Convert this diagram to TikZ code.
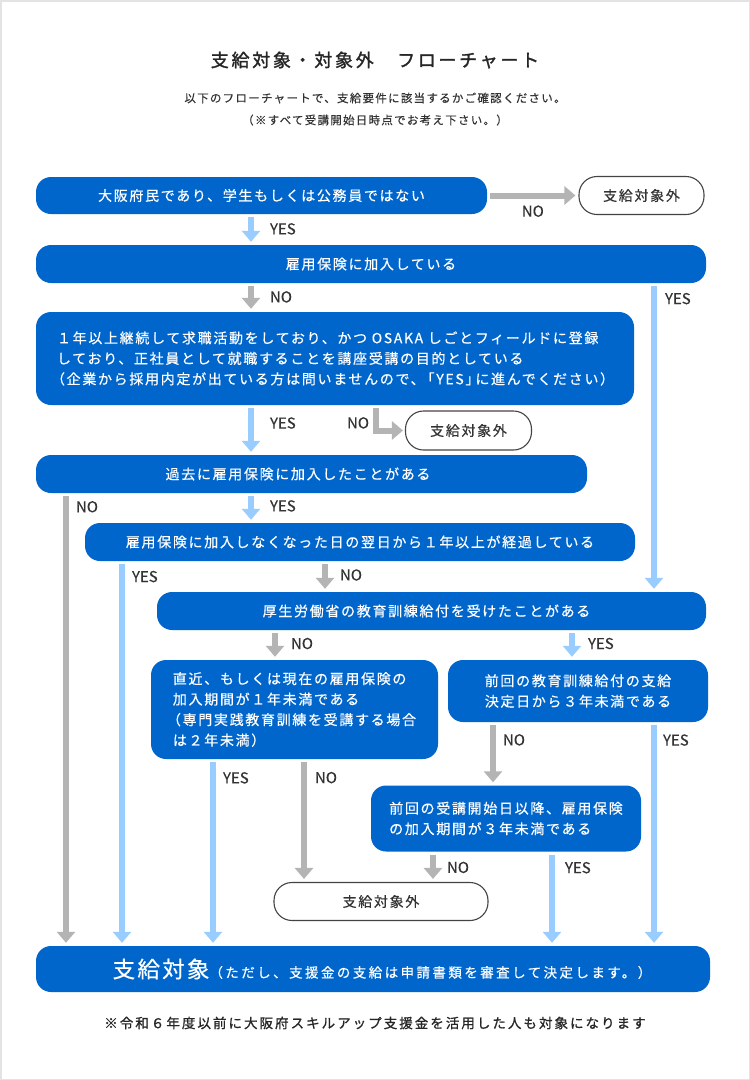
\documentclass[tikz,border=0pt]{standalone}
\usepackage{fontspec}
\setmainfont{Noto Sans CJK JP}
\newfontfamily\jpbox[LetterSpace=12,FakeBold=0.4]{Noto Sans CJK JP}
\newfontfamily\jptitle[LetterSpace=15,FakeBold=1.5]{Noto Sans CJK JP}
\newfontfamily\jpsub[LetterSpace=11,FakeBold=0.3]{Noto Sans CJK JP}
\newfontfamily\jpnote[LetterSpace=15,FakeBold=1]{Noto Sans CJK JP}
\newfontfamily\jpbig[LetterSpace=10,FakeBold=0.5]{Noto Sans CJK JP}
\newfontfamily\jpfinal[LetterSpace=18,FakeBold=0.4]{Noto Sans CJK JP}
\newfontfamily\jplab[FakeBold=0.3]{Noto Sans CJK JP}
\usepackage{tikz}
\usetikzlibrary{arrows.meta}
\usetikzlibrary{calc}
\definecolor{boxblue}{HTML}{0066CC}
\definecolor{yesblue}{HTML}{99CCFF}
\definecolor{nogray}{HTML}{B4B4B4}
\definecolor{txtgray}{HTML}{333333}
\definecolor{endgray}{HTML}{444444}
\definecolor{framegray}{HTML}{E3E3E3}
\tikzset{
  qbox/.style={fill=boxblue, rounded corners=15pt, text=white, inner sep=0pt,
    align=center, font=\jpbox\fontsize{14}{20.5}\selectfont},
  endbox/.style={draw=endgray, line width=1.1pt, fill=white, rounded corners=18pt,
    text=txtgray, inner sep=0pt, font=\jpbox\fontsize{14}{20}\selectfont},
  yesarrow/.style={draw=yesblue, line width=6pt, -{Triangle[width=18pt,length=11pt]},
    shorten <=3pt, shorten >=3pt},
  noarrow/.style={draw=nogray, line width=6pt, -{Triangle[width=18pt,length=11pt]},
    shorten <=3pt, shorten >=3pt},
  lab/.style={font=\jplab\fontsize{15}{15}\selectfont, text=txtgray, inner sep=0pt, anchor=west}
}

\begin{document}
\begin{tikzpicture}[x=1pt, y=-1pt]
			\useasboundingbox (0,0) rectangle (750,1080);
			\fill[white] (0,0) rectangle (750,1080);
			\draw[framegray, line width=1.5pt] (0.75,0.75) rectangle (749.25,1079.25);
			% heading
			\node[font=\jptitle\fontsize{18}{18}\selectfont, text=black!85] (title) at (375,60) {支給対象・対象外　フローチャート};
			\node[font=\jpsub\fontsize{11.5}{12}\selectfont, text=txtgray] (intro) at (375,98) {以下のフローチャートで、支給要件に該当するかご確認ください。};
			\node[font=\jpsub\fontsize{11.5}{12}\selectfont, text=txtgray] (introb) at (375,120) {（※すべて受講開始日時点でお考え下さい。）};
			% columns of the arrows
			\coordinate (xmain) at (251,0);
			\coordinate (xright) at (654,0);
			\coordinate (xfar) at (66,0);
			\coordinate (xlapse) at (122,0);
			\coordinate (xelbow) at (376,0);
			\coordinate (xfno) at (325,0);
			\coordinate (xgno) at (275,0);
			\coordinate (xgyes) at (572,0);
			\coordinate (xpyes) at (213,0);
			\coordinate (xpno) at (304,0);
			\coordinate (xlno) at (493,0);
			\coordinate (xsno) at (433,0);
			\coordinate (xsyes) at (552,0);
			% questions
			\node[qbox, minimum width=451pt, minimum height=37pt] (qresident) at (261.5,195.5) {大阪府民であり、学生もしくは公務員ではない};
			\node[endbox, minimum width=125pt, minimum height=38pt] (outa) at (641.5,195.5) {支給対象外};
			\node[qbox, minimum width=670pt, minimum height=38pt] (qinsured) at (371,264) {雇用保険に加入している};
			\node[qbox, align=left, text width=556pt, minimum width=598pt, minimum height=93pt] (qjobhunt) at (335,358.5) {１年以上継続して求職活動をしており、かつ OSAKA しごとフィールドに登録\\しており、正社員として就職することを講座受講の目的としている\\\hspace*{-6pt}（企業から採用内定が出ている方は問いませんので、\kern-4pt「YES」\kern-4pt に進んでください）};
			\node[endbox, minimum width=126pt, minimum height=39pt] (outb) at (468.5,430.5) {支給対象外};
			\node[qbox, minimum width=551pt, minimum height=38pt] (qpast) at (311.5,474) {過去に雇用保険に加入したことがある\hspace*{27pt}};
			\node[qbox, minimum width=550pt, minimum height=38pt] (qlapse) at (360,542) {雇用保険に加入しなくなった日の翌日から１年以上が経過している};
			\node[qbox, minimum width=549pt, minimum height=38pt] (qbenefit) at (431.5,611) {厚生労働省の教育訓練給付を受けたことがある\hspace*{10pt}};
			\node[qbox, align=left, minimum width=287pt, minimum height=99pt] (qperiod) at (294.5,709.5) {直近、もしくは現在の雇用保険の\\加入期間が１年未満である\\\hspace*{-6pt}（専門実践教育訓練を受講する場合\\は２年未満）};
			\node[qbox, minimum width=260pt, minimum height=62pt] (qlast) at (578,691) {前回の教育訓練給付の支給\\決定日から３年未満である};
			\node[qbox, align=left, minimum width=270pt, minimum height=66pt] (qsince) at (506,818.5) {前回の受講開始日以降、雇用保険\\の加入期間が３年未満である};
			\node[endbox, minimum width=214pt, minimum height=38pt] (outc) at (381,901.5) {支給対象外};
			\node[qbox, minimum width=674pt, minimum height=46pt, font=\jpfinal\fontsize{13.5}{16}\selectfont] (eligible) at (373,969) {\hspace*{18pt}{\jpbig\fontsize{22.5}{22}\selectfont 支給対象}（ただし、支援金の支給は申請書類を審査して決定します。）};
			\node[font=\jpnote\fontsize{13.5}{14}\selectfont, text=black!85] (footnote) at (375,1023) {※令和６年度以前に大阪府スキルアップ支援金を活用した人も対象になります};
			% connectors
			\draw[noarrow] (qresident.east) -- (outa.west) node[lab, midway, anchor=north, yshift=-7pt] (lnoa) {NO};
			\draw[yesarrow] (qresident.south -| xmain) -- (qinsured.north -| xmain) node[lab, pos=.48, xshift=16pt] (lyesa) {YES};
			\draw[noarrow] (qinsured.south -| xmain) -- (qjobhunt.north -| xmain) node[lab, pos=.48, xshift=16pt] (lnob) {NO};
			\draw[yesarrow] (qinsured.south -| xright) -- (qbenefit.north -| xright) node[lab, pos=.05, xshift=8pt] (lyesb) {YES};
			\draw[yesarrow] (qjobhunt.south -| xmain) -- (qpast.north -| xmain) node[lab, pos=.36, xshift=16pt] (lyesc) {YES};
			\draw[noarrow, shorten >=2pt] (qjobhunt.south -| xelbow) |- (outb.west) node[lab, at start, anchor=north east, xshift=-4pt, yshift=-9pt] (lnoc) {NO};
			\draw[yesarrow] (qpast.south -| xmain) -- (qlapse.north -| xmain) node[lab, pos=.43, xshift=16pt] (lyesd) {YES};
			\draw[noarrow] (qpast.south -| xfar) -- (eligible.north -| xfar) node[lab, pos=.03, xshift=7pt] (lnod) {NO};
			\draw[yesarrow] (qlapse.south -| xlapse) -- (eligible.north -| xlapse) node[lab, pos=.04, xshift=7pt] (lyese) {YES};
			\draw[noarrow] (qlapse.south -| xfno) -- (qbenefit.north -| xfno) node[lab, pos=.45, xshift=12pt] (lnoe) {NO};
			\draw[noarrow] (qbenefit.south -| xgno) -- (qperiod.north -| xgno) node[lab, pos=.45, xshift=13pt] (lnof) {NO};
			\draw[yesarrow] (qbenefit.south -| xgyes) -- (qlast.north -| xgyes) node[lab, pos=.45, xshift=13pt] (lyesf) {YES};
			\draw[yesarrow] (qperiod.south -| xpyes) -- (eligible.north -| xpyes) node[lab, pos=.10, xshift=7pt] (lyesg) {YES};
			\draw[noarrow] (qperiod.south -| xpno) -- (outc.north -| xpno) node[lab, pos=.15, xshift=8pt] (lnog) {NO};
			\draw[noarrow] (qlast.south -| xlno) -- (qsince.north -| xlno) node[lab, pos=.28, xshift=7pt] (lnoh) {NO};
			\draw[yesarrow] (qlast.south -| xright) -- (eligible.north -| xright) node[lab, pos=.08, xshift=6pt] (lyesh) {YES};
			\draw[noarrow] (qsince.south -| xsno) -- (outc.north -| xsno) node[lab, pos=.52, xshift=11pt] (lnoi) {NO};
			\draw[yesarrow] (qsince.south -| xsyes) -- (eligible.north -| xsyes) node[lab, pos=.17, xshift=10pt] (lyesi) {YES};
		\end{tikzpicture}
\end{document}
